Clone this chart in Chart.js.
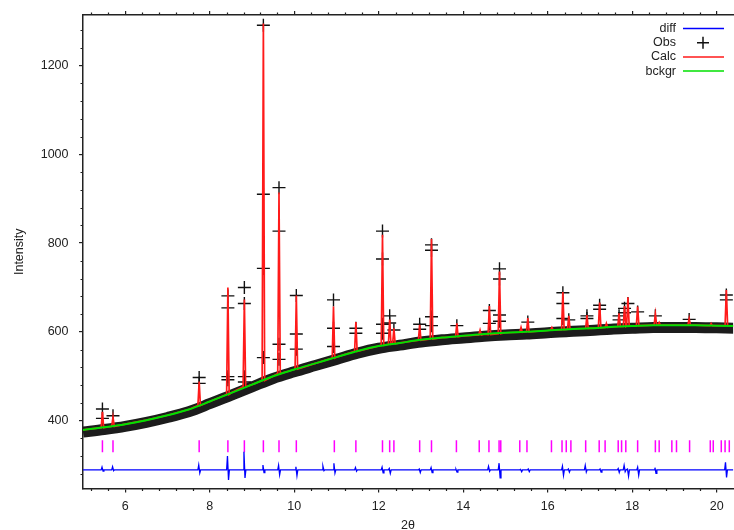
<!DOCTYPE html>
<html>
<head>
<meta charset="utf-8">
<title>Rietveld plot</title>
<script src="https://cdn.jsdelivr.net/npm/chart.js@4.4.0/dist/chart.umd.min.js"></script>
<style>
  html, body { margin: 0; padding: 0; background: #fff; overflow: hidden; }
  canvas { display: block; }
</style>
</head>
<body>
<canvas id="myChart" width="741" height="534"></canvas>
<script>
// background (bckgr) read every 0.5 deg
var bgX = [5, 5.5, 6, 6.5, 7, 7.5, 8, 8.5, 9, 9.5, 10, 10.5, 11, 11.5, 12, 12.5,
           13, 13.5, 14, 14.5, 15, 15.5, 16, 16.5, 17, 17.5, 18, 18.5, 19, 19.5, 20, 20.5];
var bgY = [379, 385, 392, 401, 412, 425, 443, 462, 481, 500, 515, 529, 543, 557, 568, 575,
           582, 587, 591, 595, 598, 600, 603, 606, 608, 611, 613, 615, 615, 615, 614, 613];
// centre of the dense band of observed points
var obsBand = [374, 380, 387, 396, 407, 420, 438, 457, 476, 495, 510, 524, 538, 552, 563, 570,
               577, 582, 586, 590, 593, 595, 598, 601, 603, 606, 608, 610, 610, 610, 609, 608];

// calculated peaks: position, top, foot
var peakPos  = [5.46, 5.71, 7.75, 8.43, 8.82, 9.27, 9.64, 10.05, 10.93, 11.46, 12.09, 12.26, 12.36,
                12.97, 13.25, 13.85, 14.40, 14.62, 14.86, 15.37, 15.53, 16.10, 16.36, 16.50, 16.93,
                17.23, 17.39, 17.69, 17.82, 17.90, 18.13, 18.55, 18.64, 19.35, 19.87, 20.23];
var peakTop  = [420, 408, 488, 700, 673, 1295, 914, 682, 657, 622, 819, 628, 608,
                616, 809, 619, 604, 658, 736, 610, 631, 610, 690, 636, 638,
                666, 619, 642, 658, 678, 657, 640, 621, 630, 619, 694];
var peakBase = [384, 387, 434, 459, 476, 490, 506, 516, 541, 556, 570, 572, 573,
                581, 584, 589, 593, 594, 596, 599, 600, 604, 605, 606, 608,
                609, 610, 612, 612, 613, 614, 615, 615, 615, 614, 614];

// observed points drawn as crosses on the peaks
var obsX = [5.46, 5.46, 5.71, 7.75, 7.75,
            8.43, 8.43, 8.43, 8.43, 8.82, 8.82, 8.82, 8.82,
            9.27, 9.27, 9.27, 9.27, 9.64, 9.64, 9.64, 9.64,
            10.05, 10.05, 10.05, 10.93, 10.93, 10.93, 11.46, 11.46,
            12.09, 12.09, 12.09, 12.09, 12.26, 12.26, 12.36, 12.97, 12.97,
            13.25, 13.25, 13.25, 13.25, 13.85, 14.62, 14.62,
            14.86, 14.86, 14.86, 14.86, 15.53, 16.36, 16.36, 16.36, 16.50,
            16.93, 16.93, 17.23, 17.23, 17.69, 17.69, 17.82, 17.82, 17.90,
            18.13, 18.55, 19.35, 20.23, 20.23];
var obsY = [426, 405, 411, 497, 484,
            681, 654, 499, 492, 700, 664, 499, 487,
            1291, 910, 743, 542, 925, 827, 572, 538,
            682, 595, 561, 672, 608, 567, 608, 597,
            827, 764, 617, 597, 636, 620, 604, 617, 606,
            796, 784, 634, 614, 614, 648, 619,
            742, 719, 638, 624, 622, 688, 664, 630, 627,
            636, 630, 660, 651, 636, 627, 653, 643, 664,
            645, 636, 628, 683, 672];

// reflection positions (magenta ticks)
var reflPos = [5.46, 5.71, 7.75, 8.43, 8.82, 9.27, 9.64, 10.05, 10.95, 11.46, 12.09, 12.26, 12.36,
               12.97, 13.25, 13.84, 14.38, 14.61, 14.85, 14.89, 15.34, 15.51, 16.09, 16.34, 16.44,
               16.55, 16.90, 17.22, 17.36, 17.67, 17.75, 17.85, 18.13, 18.55, 18.64, 18.94, 19.05,
               19.36, 19.85, 19.92, 20.11, 20.20, 20.30];
var reflLevel = 342;

// difference curve: baseline, spike up, spike down
var diffBase = 289;
var diffPos  = [5.46, 5.71, 7.75, 8.43, 8.82, 9.27, 9.64, 10.05, 10.69, 10.95, 11.46, 12.09, 12.26,
                12.97, 13.25, 13.84, 14.61, 14.86, 15.37, 15.55, 16.36, 16.50, 16.90, 17.25,
                17.68, 17.82, 17.90, 18.14, 18.55, 20.22];
var diffUp   = [6, 7, 11, 31, 41, 11, 10, 7, 8, 15, 5, 6, 3,
                2, 5, 1, 8, 15, 1, 2, 8, 2, 10, 2,
                3, 10, 2, 6, 5, 17];
var diffDown = [-3, -2, -7, -23, -18, -6, -11, -13, -2, -7, -3, -7, -8,
                -6, -6, -5, -3, -18, -4, -4, -12, -5, -5, -5,
                -6, -4, -14, -12, -8, -17];

var xTicks = [6, 8, 10, 12, 14, 16, 18, 20];
var yTicks = [400, 600, 800, 1000, 1200];
var xMin = 5, xMax = 20.39, yMin = 247, yMax = 1314;

function pts(xs, ys) {
    return xs.map(function (x, i) { return {x: x, y: ys[i]}; });
}

// Calc = background with the peaks on top
var calcData = pts(bgX, bgY).filter(function (p) {
    return !peakPos.some(function (q) { return Math.abs(q - p.x) < 0.05; });
});
peakPos.forEach(function (p, i) {
    calcData.push({x: p - 0.03, y: peakBase[i]}, {x: p, y: peakTop[i]}, {x: p + 0.03, y: peakBase[i]});
});
calcData.sort(function (a, b) { return a.x - b.x; });

var diffData = [{x: 5, y: diffBase}, {x: 20.5, y: diffBase}];
diffPos.forEach(function (p, i) {
    diffData.push({x: p - 0.03, y: diffBase}, {x: p - 0.01, y: diffBase + diffUp[i]},
                  {x: p + 0.015, y: diffBase + diffDown[i]}, {x: p + 0.035, y: diffBase});
});
diffData.sort(function (a, b) { return a.x - b.x; });

var reflData = reflPos.map(function (x) { return {x: x, y: reflLevel}; });

var FONT = 'Liberation Sans, Arial, Helvetica, sans-serif';
var INK = '#222';

function plain(v) { return String(v); }

// small ticks between the labelled ones
var minorTicks = {
    id: 'minorTicks',
    afterDraw: function (chart) {
        var ctx = chart.ctx, a = chart.chartArea;
        var xs = chart.scales.x, ys = chart.scales.y;
        ctx.save();
        ctx.strokeStyle = INK;
        ctx.lineWidth = 1.2;
        ctx.beginPath();
        for (var k = Math.ceil(xMin / 0.4); k * 0.4 <= xMax; k++) {
            if (k % 5 === 0) continue;
            var px = Math.round(xs.getPixelForValue(k * 0.4)) + 0.5;
            ctx.moveTo(px, a.bottom); ctx.lineTo(px, a.bottom + 2.5);
            ctx.moveTo(px, a.top); ctx.lineTo(px, a.top - 2.5);
        }
        for (var j = Math.ceil(yMin / 40); j * 40 <= yMax; j++) {
            if (j % 5 === 0) continue;
            var py = Math.round(ys.getPixelForValue(j * 40)) + 0.5;
            ctx.moveTo(a.left, py); ctx.lineTo(a.left - 2.5, py);
        }
        ctx.stroke();
        ctx.restore();
    }
};

// legend in the top right corner: text on the left, sample on the right
var cornerLegend = {
    id: 'cornerLegend',
    afterDraw: function (chart) {
        var ctx = chart.ctx;
        var rows = chart.data.datasets.filter(function (d) { return d.legendRow !== undefined; })
                                      .sort(function (a, b) { return a.legendRow - b.legendRow; });
        ctx.save();
        ctx.font = '12.5px ' + FONT;
        ctx.textAlign = 'right';
        ctx.textBaseline = 'middle';
        rows.forEach(function (d, i) {
            var y = 28.5 + i * 14.2;
            ctx.fillStyle = INK;
            ctx.fillText(d.label, 676, y);
            ctx.strokeStyle = d.borderColor;
            ctx.lineWidth = 1.5;
            if (d.pointStyle === 'cross') {
                Chart.helpers.drawPoint(ctx, {pointStyle: 'cross', radius: 6, borderWidth: 1.3}, 703, y);
            } else {
                ctx.beginPath();
                ctx.moveTo(683, y); ctx.lineTo(724, y);
                ctx.stroke();
            }
        });
        ctx.restore();
    }
};

var ctx = document.getElementById('myChart').getContext('2d');
var chart = new Chart(ctx, {
    type: 'scatter',
    data: {
        datasets: [
            {
                label: 'bckgr', legendRow: 3, order: 1,
                data: pts(bgX, bgY), showLine: true, cubicInterpolationMode: 'monotone',
                borderColor: '#00e000', borderWidth: 2, pointRadius: 0
            },
            {
                label: 'Calc', legendRow: 2, order: 2,
                data: calcData, showLine: true,
                borderColor: '#ff1a1a', borderWidth: 1.7, pointRadius: 0
            },
            {
                label: 'Obs', legendRow: 1, order: 3,
                data: pts(obsX, obsY), showLine: false,
                pointStyle: 'cross', pointRadius: 6.5, borderWidth: 1.4,
                borderColor: '#111', backgroundColor: '#111'
            },
            {
                label: 'Obs band', order: 4,
                data: pts(bgX, obsBand), showLine: true, cubicInterpolationMode: 'monotone',
                borderColor: '#1c1c1c', borderWidth: 11, pointRadius: 0
            },
            {
                label: 'diff', legendRow: 0, order: 5,
                data: diffData, showLine: true,
                borderColor: '#0000ff', borderWidth: 1.3, pointRadius: 0
            },
            {
                label: 'reflections', order: 6,
                data: reflData, showLine: false,
                pointStyle: 'line', rotation: 90, pointRadius: 6,
                borderColor: '#ff00ff', borderWidth: 1.5
            }
        ]
    },
    options: {
        responsive: false,
        animation: false,
        devicePixelRatio: 1,
        layout: { padding: 0 },
        plugins: { legend: { display: false }, tooltip: { enabled: false } },
        scales: {
            x: {
                type: 'linear', position: 'bottom', min: xMin, max: xMax,
                afterBuildTicks: function (s) { s.ticks = xTicks.map(function (v) { return {value: v}; }); },
                afterFit: function (s) { s.height = 45.5; s.paddingLeft = 0; s.paddingRight = 0; },
                ticks: { padding: 7, color: INK, font: { family: FONT, size: 12.5 }, maxRotation: 0, callback: plain },
                grid: { drawOnChartArea: false, drawTicks: true, tickLength: 4, color: INK, lineWidth: 1.2 },
                border: { color: INK, width: 1.5 },
                title: { display: true, text: '2θ', color: INK, font: { family: FONT, size: 12.5 },
                         padding: { top: 0, bottom: 0.5 } }
            },
            x2: {
                type: 'linear', position: 'top', min: xMin, max: xMax,
                afterBuildTicks: function (s) { s.ticks = xTicks.map(function (v) { return {value: v}; }); },
                afterFit: function (s) { s.height = 15; s.paddingLeft = 0; s.paddingRight = 0; },
                ticks: { display: false },
                grid: { drawOnChartArea: false, drawTicks: true, tickLength: 4, color: INK, lineWidth: 1.2 },
                border: { color: INK, width: 1.5 }
            },
            y: {
                type: 'linear', position: 'left', min: yMin, max: yMax,
                afterBuildTicks: function (s) { s.ticks = yTicks.map(function (v) { return {value: v}; }); },
                afterFit: function (s) { s.width = 83; s.paddingTop = 0; s.paddingBottom = 0; },
                ticks: { padding: 10.5, color: INK, font: { family: FONT, size: 12.5 }, callback: plain },
                grid: { drawOnChartArea: false, drawTicks: true, tickLength: 4, color: INK, lineWidth: 1.2 },
                border: { color: INK, width: 1.5 },
                title: { display: true, text: 'Intensity', color: INK, font: { family: FONT, size: 12.5 },
                         padding: { top: 12, bottom: 0 } }
            }
        }
    },
    plugins: [minorTicks, cornerLegend]
});
</script>
</body>
</html>
